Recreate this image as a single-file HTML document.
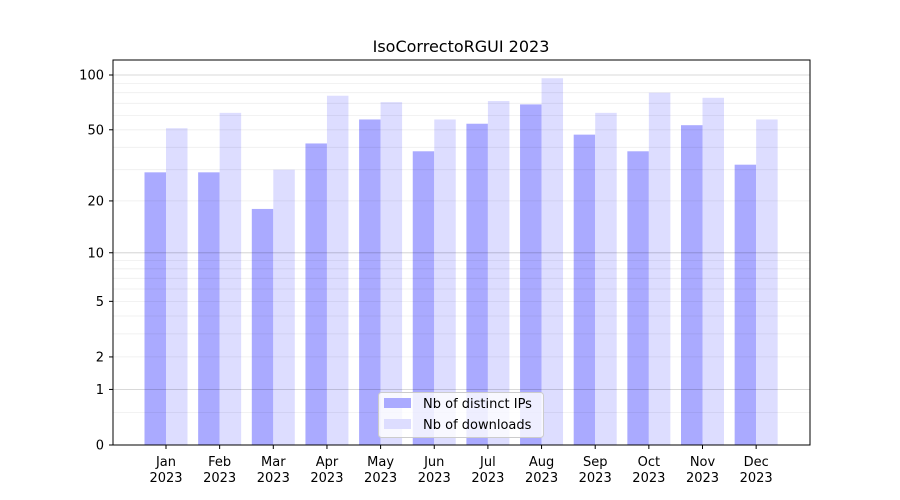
<!DOCTYPE html>
<html><head><meta charset="utf-8"><style>body{margin:0;background:#fff}svg{display:block;font-family:"DejaVu Sans","Liberation Sans",sans-serif}</style></head>
<body><svg id="s" width="900" height="500" xmlns="http://www.w3.org/2000/svg"></svg>
<script>
const s=document.getElementById('s');let h='';
const f=v=>445-184.6*Math.log10(v+1);
const ip=[29,29,18,42,57,38,54,69,47,38,53,32],dl=[51,62,30,77,71,57,72,96,62,80,75,57];
const m=['Jan','Feb','Mar','Apr','May','Jun','Jul','Aug','Sep','Oct','Nov','Dec'];
for(let i=0;i<12;i++){const c=166+i*53.65;
 let y=f(ip[i]);h+=`<rect x="${c-21.5}" y="${y}" width="21.5" height="${445-y}" fill="#aaaaff"/>`;
 y=f(dl[i]);h+=`<rect x="${c}" y="${y}" width="21.5" height="${445-y}" fill="#ddddff"/>`;
 h+=`<line x1="${c}" x2="${c}" y1="445" y2="449" stroke="#000"/>`;
 h+=`<text x="${c}" y="466" font-size="13" text-anchor="middle">${m[i]}</text><text x="${c}" y="482" font-size="13" text-anchor="middle">2023</text>`;}
let vals=[];for(let d of [1,10]){for(let k=2;k<=9;k++)vals.push(k*d);}vals.push(0.5);
for(const v of vals){const y=f(v).toFixed(1);h+=`<line x1="113" x2="810" y1="${y}" y2="${y}" stroke="#000" stroke-opacity="0.07" stroke-width="0.8"/>`;}
for(const v of [1,10,100]){const y=f(v).toFixed(1);h+=`<line x1="113" x2="810" y1="${y}" y2="${y}" stroke="#000" stroke-opacity="0.2" stroke-width="0.8"/>`;}
for(const v of [0,1,2,5,10,20,50,100]){const y=f(v);h+=`<line x1="109" x2="113" y1="${y}" y2="${y}" stroke="#000"/><text x="104" y="${y+4.5}" font-size="13" text-anchor="end">${v}</text>`;}
h+=`<rect x="113" y="60" width="697" height="385" fill="none" stroke="#000" stroke-width="1"/>`;
h+=`<text x="461" y="52" font-size="16" text-anchor="middle">IsoCorrectoRGUI 2023</text>`;
h+=`<rect x="378.5" y="392.5" width="165" height="45" rx="3" fill="#fff" fill-opacity="0.8" stroke="#ccc"/>`;
h+=`<rect x="384" y="398" width="27" height="10" fill="#aaaaff"/><text x="423" y="408" font-size="13">Nb of distinct IPs</text>`;
h+=`<rect x="384" y="419" width="27" height="10" fill="#ddddff"/><text x="423" y="429" font-size="13">Nb of downloads</text>`;
s.innerHTML=h;
</script></body></html>
